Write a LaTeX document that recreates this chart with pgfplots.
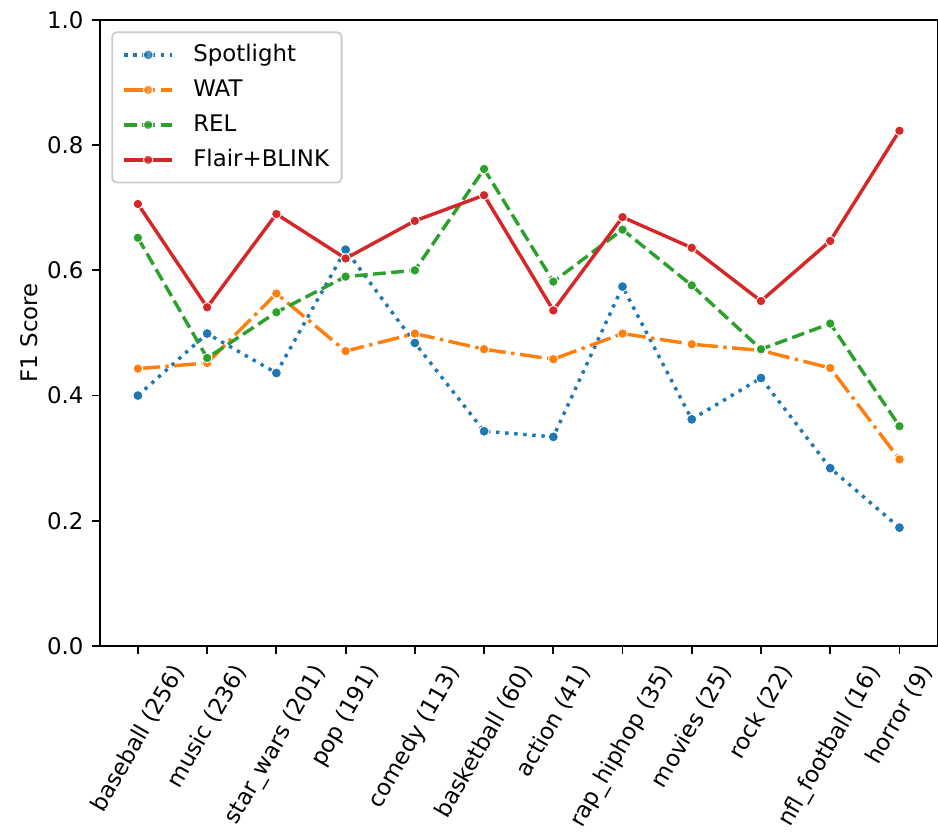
\documentclass[border=0pt]{standalone}
\usepackage{pgfplots}
\pgfplotsset{compat=1.18}
\usepackage{fontspec}
\setmainfont{DejaVu Sans}
\usepackage{graphicx}
\definecolor{c0}{HTML}{1F77B4}
\definecolor{c1}{HTML}{FF7F0E}
\definecolor{c2}{HTML}{2CA02C}
\definecolor{c3}{HTML}{D62728}
\begin{document}
\begin{tikzpicture}
\begin{axis}[
  width=366.4pt, height=273.8pt, scale only axis,
  xmin=-0.55, xmax=11.55, ymin=0, ymax=1,
  xtick={0,1,2,3,4,5,6,7,8,9,10,11},
  xticklabels={
    \rotatebox{60}{baseball (256)},
    \rotatebox{60}{music (236)},
    \rotatebox{60}{star\_wars (201)},
    \rotatebox{60}{pop (191)},
    \rotatebox{60}{comedy (113)},
    \rotatebox{60}{basketball (60)},
    \rotatebox{60}{action (41)},
    \rotatebox{60}{rap\_hiphop (35)},
    \rotatebox{60}{movies (25)},
    \rotatebox{60}{rock (22)},
    \rotatebox{60}{nfl\_football (16)},
    \rotatebox{60}{horror (9)}},
  xticklabel style={anchor=north, inner sep=0pt, font=\fontsize{10}{12}\selectfont},
  xticklabel shift=3.5pt,
  ytick={0,0.2,0.4,0.6,0.8,1.0},
  yticklabel style={/pgf/number format/.cd, fixed, fixed zerofill, precision=1, /tikz/.cd, inner sep=0pt, font=\fontsize{10}{12}\selectfont},
  yticklabel shift=3.5pt,
  /pgf/number format/assume math mode=true,
  tick align=outside, major tick length=3.5pt,
  tick style={black, line width=0.8pt},
  xtick pos=left, ytick pos=left,
  axis line style={line width=0.8pt},
  ylabel={F1 Score},
  ylabel style={at={(ticklabel cs:0.5,4pt)}, anchor=south, inner sep=0pt, font=\fontsize{10}{12}\selectfont},
  legend style={at={(0,1)}, anchor=north west, xshift=5pt, yshift=-5pt,
    draw=black!20, line width=0.8pt, rounded corners=2pt, fill=white, fill opacity=0.8, text opacity=1,
    inner xsep=4.5pt, inner ysep=4pt, row sep=3.5pt,
    font=\fontsize{10}{12}\selectfont,
    nodes={inner sep=1pt, text height=7.6pt, text depth=2.2pt},
    /tikz/every odd column/.append style={column sep=7.5pt}},
  legend cell align=left,
  legend image code/.code={\draw[mark repeat=2,mark phase=2,#1] plot coordinates {(0pt,0pt) (10.5pt,0pt) (21pt,0pt)};},
  every axis plot/.append style={line width=1.5pt, line cap=butt},
]
\addplot[c0, dash pattern=on 1.5pt off 2.475pt, mark=*, mark size=2.2pt, mark options={solid, fill=c0, draw=white, line width=0.4pt}]
coordinates {(0,0.400) (1,0.499) (2,0.436) (3,0.633) (4,0.484) (5,0.343) (6,0.334) (7,0.574) (8,0.362) (9,0.428) (10,0.284) (11,0.189)};
\addlegendentry{Spotlight}
\addplot[c1, dash pattern=on 9.6pt off 2.4pt on 1.5pt off 2.4pt, mark=*, mark size=2.1pt, mark options={solid, fill=c1, draw=white, line width=0.4pt}]
coordinates {(0,0.443) (1,0.452) (2,0.563) (3,0.471) (4,0.499) (5,0.474) (6,0.458) (7,0.499) (8,0.482) (9,0.472) (10,0.444) (11,0.298)};
\addlegendentry{WAT}
\addplot[c2, dash pattern=on 5.55pt off 2.4pt, mark=*, mark size=2.1pt, mark options={solid, fill=c2, draw=white, line width=0.4pt}]
coordinates {(0,0.652) (1,0.460) (2,0.533) (3,0.590) (4,0.600) (5,0.762) (6,0.582) (7,0.665) (8,0.576) (9,0.474) (10,0.515) (11,0.351)};
\addlegendentry{REL}
\addplot[c3, solid, mark=*, mark size=2.1pt, mark options={solid, fill=c3, draw=white, line width=0.4pt}]
coordinates {(0,0.706) (1,0.541) (2,0.690) (3,0.619) (4,0.679) (5,0.720) (6,0.536) (7,0.685) (8,0.636) (9,0.551) (10,0.647) (11,0.823)};
\addlegendentry{Flair+BLINK}
\end{axis}
\pgfresetboundingbox
\path (current axis.south west) ++(-43.67pt,-83.85pt) coordinate (bl);
\path (current axis.north east) ++(0.2pt,8.73pt) coordinate (tr);
\useasboundingbox (bl) rectangle (tr);
\end{tikzpicture}
\end{document}
